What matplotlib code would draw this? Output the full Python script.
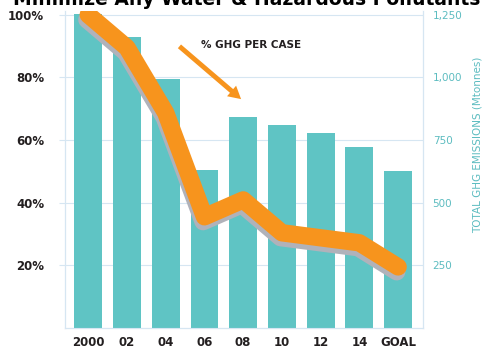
import matplotlib.pyplot as plt
import matplotlib.patheffects as pe
import matplotlib.ticker as ticker

# ── data ───────────────────────────────────────────────────────────────────
years = ["2000", "02", "04", "06", "08", "10", "12", "14", "GOAL"]
total_ghg = [1255, 1162, 995, 631, 843, 811, 779, 723, 627]      # Mtonnes (bars)
pct_per_case = [100, 89.5, 68.7, 35.5, 40.9, 30.4, 28.8, 27.2, 19.5]  # % (line)
sub_labels = ["", "", "", "", "", "", "", "est", "2020"]

TEAL = "#5fc4c4"
TEAL_TXT = "#5cbcc0"
ORANGE = "#f7941d"
SHADOW = "#b0b2ba"
GRID = "#d6e6f2"
DARK = "#231f20"

fig = plt.figure(figsize=(4.94, 3.53), dpi=100)
fig.patch.set_facecolor("white")
ax = fig.add_axes([0.1316, 0.0708, 0.7245, 0.8980])
axb = ax.twinx()
axb.set_zorder(ax.get_zorder() - 1)
ax.patch.set_visible(False)

x = list(range(len(years)))

# bars on the right-hand scale
axb.bar(x, total_ghg, width=0.72, color=TEAL, zorder=3)
axb.set_ylim(0, 1265)
axb.yaxis.set_major_locator(ticker.FixedLocator([250, 500, 750, 1000, 1250]))
axb.yaxis.set_major_formatter(ticker.FuncFormatter(lambda v, p: f"{int(v):,}"))
axb.tick_params(axis="y", colors=TEAL_TXT, labelsize=7.5, length=0, pad=7)
for t in axb.get_yticklabels():
    t.set_color(TEAL_TXT)
axb.grid(axis="y", color=GRID, lw=0.8, zorder=0)
axb.set_axisbelow(True)

# percentage line on the left-hand scale
ax.plot(x, pct_per_case, color=ORANGE, lw=12.5, solid_joinstyle="round",
        solid_capstyle="round", zorder=5,
        path_effects=[pe.SimpleLineShadow(offset=(-1, -3.5), shadow_color=SHADOW,
                                          alpha=1.0, rho=1.0),
                      pe.Normal()])
ax.set_ylim(0, 101.2)
ax.yaxis.set_major_locator(ticker.FixedLocator([20, 40, 60, 80, 100]))
ax.yaxis.set_major_formatter(ticker.FuncFormatter(lambda v, p: f"{int(v)}%"))
ax.tick_params(axis="y", colors=GRID, labelcolor=DARK, labelsize=8.5,
               length=4, pad=11)
for t in ax.get_yticklabels():
    t.set_fontweight("bold")

ax.set_xlim(-0.6, len(years) - 1 + 0.64)
ax.set_xticks(x)
ax.set_xticklabels(years, fontsize=8.5, fontweight="bold", color=DARK)
ax.tick_params(axis="x", length=0, pad=6)

for a in (ax, axb):
    a.spines["top"].set_visible(False)
    a.spines["left"].set_color(GRID)
    a.spines["right"].set_color(GRID)
    a.spines["bottom"].set_color(GRID)

# small sub labels under the last ticks
for xi, s in zip(x, sub_labels):
    if s:
        ax.annotate(s, xy=(xi, 0), xytext=(0, -21), textcoords="offset points",
                    ha="center", va="top", fontsize=4.5, color="#888888")

# annotation arrow
ax.annotate("", xy=(4.0, 72.5), xytext=(2.3, 90.5),
            arrowprops=dict(arrowstyle="simple,head_width=1.0,head_length=0.9,tail_width=0.35",
                            color=ORANGE, lw=0))
ax.text(2.9, 90.5, "% GHG PER CASE", fontsize=7.5, color=DARK,
        fontweight="semibold", ha="left", va="center")

# right axis label
fig.text(478 / 494, 1 - 145 / 353, "TOTAL GHG EMISSIONS (Mtonnes)",
         rotation=90, ha="center", va="center", fontsize=7.5, color=TEAL_TXT)

# clipped headline at the very top
fig.text(0.5, 1 - 5 / 353, "Minimize Any Water & Hazardous Pollutants",
         ha="center", va="baseline", fontsize=13.5, fontweight="bold",
         color="black")

fig.savefig("out.png", dpi=100, facecolor="white")
